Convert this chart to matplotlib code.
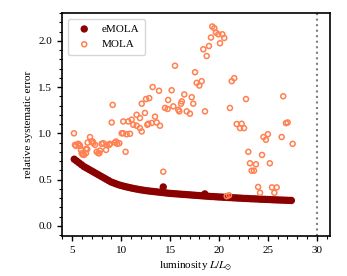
import matplotlib
matplotlib.use("Agg")
import matplotlib.pyplot as plt
from matplotlib.ticker import MultipleLocator

plt.rcParams['font.family'] = ['Liberation Serif', 'DejaVu Serif']
plt.rcParams['mathtext.fontset'] = 'stix'

# eMOLA (dense curve) values
emola_x = [5.2, 5.45, 5.7, 5.95, 6.2, 6.45, 6.7, 6.95, 7.2, 7.45, 7.7, 7.95, 8.2, 8.45, 8.7,
           8.95, 9.2, 9.45, 9.7, 9.95, 10.2, 10.45, 10.7, 10.95, 11.2, 11.45, 11.7, 11.95,
           12.2, 12.45, 12.7, 12.95, 13.2, 13.45, 13.7, 13.95, 14.2, 14.45, 14.7, 14.95,
           15.2, 15.45, 15.7, 15.95, 16.2, 16.45, 16.7, 16.95, 17.2, 17.45, 17.7, 17.95,
           18.2, 18.45, 18.7, 18.95, 19.2, 19.45, 19.7, 19.95, 20.2, 20.45, 20.7, 20.95,
           21.2, 21.45, 21.7, 21.95, 22.2, 22.45, 22.7, 22.95, 23.2, 23.45, 23.7, 23.95,
           24.2, 24.45, 24.7, 24.95, 25.2, 25.45, 25.7, 25.95, 26.2, 26.45, 26.7, 26.95,
           27.2, 27.4, 14.3, 18.55]
emola_y = [0.72, 0.70, 0.68, 0.66, 0.64, 0.625, 0.61, 0.595, 0.58, 0.565, 0.55, 0.535, 0.52,
           0.505, 0.49, 0.475, 0.465, 0.455, 0.445, 0.437, 0.43, 0.423, 0.417, 0.411, 0.405,
           0.40, 0.395, 0.39, 0.386, 0.382, 0.378, 0.375, 0.372, 0.369, 0.366, 0.363, 0.36,
           0.357, 0.354, 0.351, 0.349, 0.347, 0.345, 0.343, 0.341, 0.339, 0.337, 0.335,
           0.333, 0.331, 0.329, 0.327, 0.325, 0.323, 0.321, 0.319, 0.317, 0.316, 0.314,
           0.312, 0.311, 0.309, 0.308, 0.306, 0.305, 0.303, 0.302, 0.300, 0.299, 0.297,
           0.296, 0.295, 0.293, 0.292, 0.291, 0.290, 0.288, 0.287, 0.286, 0.285, 0.284,
           0.282, 0.281, 0.280, 0.279, 0.278, 0.277, 0.276, 0.275, 0.274, 0.42, 0.345]

# MOLA scatter values
mola_x = [5.17, 5.28, 5.38, 5.61, 5.72, 5.79, 5.89, 5.96, 6.06, 6.2, 6.4, 6.4, 6.53, 6.57,
          6.81, 6.98, 7.09, 7.15, 7.32, 7.49, 7.66, 7.76, 7.83, 8.0, 8.17, 8.45, 8.52, 8.78,
          8.85, 9.37, 9.47, 9.6, 9.81, 10.45,
          9.13, 9.03, 10.05, 10.21, 10.56, 10.9, 10.21, 10.73, 11.07, 11.24, 11.58, 11.92,
          12.1, 12.67, 12.77, 13.12, 13.63, 13.97, 11.58, 11.92, 12.43, 13.46, 12.1, 12.54,
          12.87, 13.22, 13.87, 14.3,
          14.48, 14.75, 14.8, 15.16, 15.33, 15.5, 15.84, 15.94, 16.12, 16.2, 16.45, 16.7,
          17.03, 17.21, 17.37, 17.55, 17.72, 17.99, 18.23, 18.57,
          18.4, 18.74, 18.98, 19.18, 19.31, 19.52, 19.69, 19.93, 20.1, 20.34, 20.54,
          20.79, 21.02, 21.12, 21.3, 21.56, 21.81, 22.15, 22.32, 22.56, 22.76, 23.0, 23.17,
          23.34, 23.58, 23.78, 24.0, 24.2, 24.4, 24.55, 24.8, 25.0, 25.2, 25.42, 25.66,
          25.9, 26.41, 26.57, 26.85, 27.02, 27.53]
mola_y = [1.0, 0.875, 0.864, 0.886, 0.875, 0.864, 0.82, 0.785, 0.77, 0.766, 0.785, 0.83,
          0.828, 0.90, 0.959, 0.911, 0.91, 0.893, 0.875, 0.80, 0.785, 0.785, 0.813, 0.886,
          0.893, 0.82, 0.875, 0.875, 0.886, 0.90, 0.911, 0.886, 0.893, 0.80,
          1.307, 1.117, 1.0, 1.0, 0.99, 0.995, 1.128, 1.128, 1.147, 1.092, 1.082, 1.056,
          1.02, 1.092, 1.103, 1.111, 1.117, 1.082, 1.20, 1.165, 1.22, 1.18, 1.32, 1.37,
          1.38, 1.50, 1.46, 0.585,
          1.274, 1.263, 1.36, 1.465, 1.291, 1.73, 1.255, 1.237, 1.32, 1.345, 1.42, 1.237,
          1.212, 1.39, 1.32, 1.66, 1.545, 1.516, 1.563, 1.237,
          1.908, 1.835, 1.943, 2.035, 2.154, 2.136, 2.089, 2.07, 1.973, 2.07, 2.03,
          0.32, 0.33, 1.274, 1.563, 1.596, 1.10, 1.056, 1.103, 1.056, 1.37, 0.80, 0.676,
          0.596, 0.596, 0.665, 0.42, 0.357, 0.766, 0.96, 0.93, 0.99, 0.676, 0.415, 0.357,
          0.415, 0.96, 1.40, 1.11, 1.117, 0.886]

vline_x = 30

fig = plt.figure(figsize=(3.47, 2.76), dpi=100)
ax = fig.add_axes([0.1787, 0.1449, 0.7723, 0.808])

ax.scatter(emola_x, emola_y, s=28, color='#8b0000', edgecolors='none', label='eMOLA', zorder=3)
ax.scatter(mola_x, mola_y, s=13, facecolors='none', edgecolors='#ff8050', linewidths=1.1,
           label='MOLA', zorder=4)
ax.axvline(vline_x, color='gray', linestyle=':', linewidth=1.5)

ax.set_xlim(3.95, 31.35)
ax.set_ylim(-0.11, 2.30)
ax.xaxis.set_major_locator(MultipleLocator(5))
ax.xaxis.set_minor_locator(MultipleLocator(1))
ax.yaxis.set_major_locator(MultipleLocator(0.5))
ax.yaxis.set_minor_locator(MultipleLocator(0.1))
ax.tick_params(which='major', length=3.5, width=1, labelsize=8)
ax.tick_params(which='minor', length=2, width=0.8)
for s in ax.spines.values():
    s.set_linewidth(1.2)

ax.set_xlabel(r'luminosity $L/L_{\odot}$', fontsize=8)
ax.set_ylabel('relative systematic error', fontsize=8)
ax.legend(loc='upper left', fontsize=8, handletextpad=0.6, borderpad=0.5)

fig.savefig('out.png', dpi=100)
